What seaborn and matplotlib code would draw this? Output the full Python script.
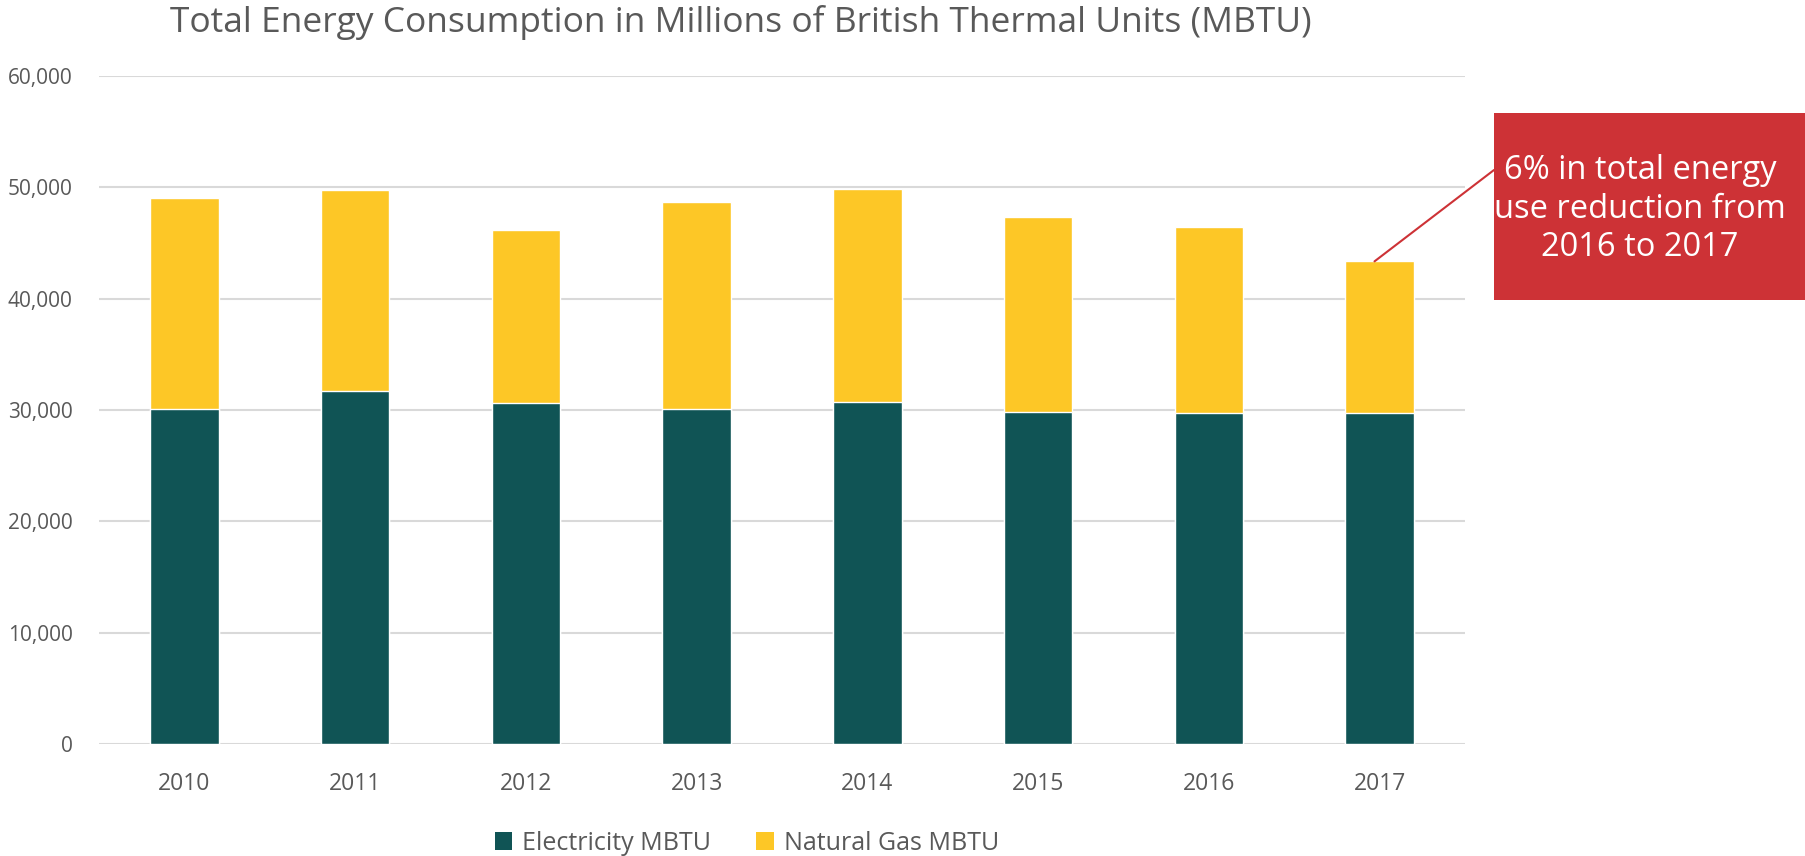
import matplotlib
matplotlib.use("Agg")
import matplotlib.pyplot as plt
import seaborn as sns
import numpy as np
from matplotlib.patches import Rectangle, Patch

years = ["2010", "2011", "2012", "2013", "2014", "2015", "2016", "2017"]
electricity = [30100, 31700, 30650, 30050, 30750, 29850, 29700, 29700]
natural_gas = [18900, 18100, 15500, 18600, 19100, 17500, 16750, 13650]
y_ticks = [0, 10000, 20000, 30000, 40000, 50000, 60000]
y_tick_labels = ["0", "10,000", "20,000", "30,000", "40,000", "50,000", "60,000"]
series_names = ["Electricity MBTU", "Natural Gas MBTU"]
title = "Total Energy Consumption in Millions of British Thermal Units (MBTU)"
note = "6% in total energy\nuse reduction from\n2016 to 2017"

TEAL = "#105455"
YELLOW = "#FDC726"
RED = "#CD3236"
GRAY = "#595959"

sns.set_theme(style="white")
plt.rcParams["font.family"] = ["Open Sans", "DejaVu Sans"]

fig = plt.figure(figsize=(18.06, 8.56), dpi=100)
ax = fig.add_axes([99 / 1806, 1 - 744 / 856, (1465 - 99) / 1806, (744 - 76) / 856])

totals = [e + g for e, g in zip(electricity, natural_gas)]
sns.barplot(x=years, y=totals, color=YELLOW, width=0.4, ax=ax, saturation=1, zorder=3)
sns.barplot(x=years, y=electricity, color=TEAL, width=0.4, ax=ax, saturation=1, zorder=3)

ax.set_ylim(0, 60000)
ax.set_xlim(-0.5, 7.5)
ax.set_yticks(y_ticks)
ax.set_yticklabels(y_tick_labels)
ax.yaxis.grid(True, color="#D9D9D9", linewidth=1.5, zorder=0)
ax.set_axisbelow(True)
for s in ax.spines.values():
    s.set_visible(False)
ax.tick_params(axis="y", length=0, pad=19, labelsize=15, labelcolor=GRAY)
ax.tick_params(axis="x", length=0, pad=20, labelsize=16.5, labelcolor=GRAY)
ax.set_xlabel("")
ax.set_ylabel("")

fig.text(741 / 1806, 1 - 22 / 856, title, ha="center", va="center", fontsize=25.5, color=GRAY)

handles = [Patch(facecolor=TEAL, edgecolor="none"), Patch(facecolor=YELLOW, edgecolor="none")]
fig.legend(handles, series_names, loc="center", bbox_to_anchor=(747 / 1806, 1 - 843 / 856),
           ncol=2, frameon=False, fontsize=18, labelcolor=GRAY, handlelength=0.7, handleheight=0.7,
           handletextpad=0.4, columnspacing=1.8)

# annotation box
fig.patches.append(Rectangle((1494 / 1806, 1 - 300 / 856), (1806 - 1494) / 1806, (300 - 113) / 856,
                             transform=fig.transFigure, facecolor=RED, edgecolor="none", zorder=5))
fig.text(1640 / 1806, 1 - 209 / 856, note, ha="center", va="center", fontsize=23.5, color="white",
         linespacing=1.22, zorder=6)
ax.annotate("", xy=(6.97, totals[7]), xycoords="data",
            xytext=(1494 / 1806, 1 - 170 / 856), textcoords="figure fraction",
            arrowprops=dict(arrowstyle="-", color=RED, linewidth=1.5, shrinkA=0, shrinkB=0),
            annotation_clip=False)

fig.savefig("out.png", dpi=100)
